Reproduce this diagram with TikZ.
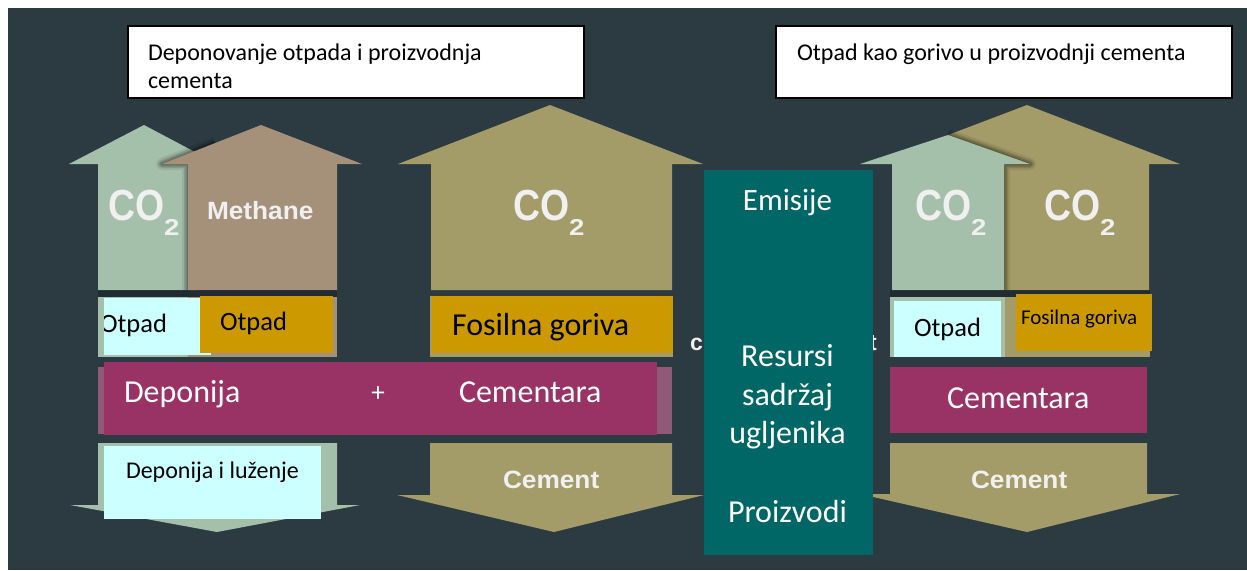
\documentclass[tikz,border=0pt]{standalone}
\usepackage{fontspec}
\setmainfont{Carlito}
\newfontfamily\arialb{Liberation Sans}[BoldFont={* Bold}]
\definecolor{bgdark}{HTML}{2C3B42}
\definecolor{sage}{HTML}{A5C0AA}
\definecolor{tan}{HTML}{A5907A}
\definecolor{olive}{HTML}{A39C68}
\definecolor{goldbox}{HTML}{CC9900}
\definecolor{cyanbox}{HTML}{CCFFFF}
\definecolor{plum}{HTML}{993366}
\definecolor{plumpale}{HTML}{8F5A78}
\definecolor{tealbox}{HTML}{006666}
\newcommand{\fsz}[1]{\fontsize{#1}{#1}\selectfont}
\newcommand{\cotwo}{{\arialb\bfseries\scalebox{.86}[1]{\fsz{43.5}CO}\raisebox{-15pt}{\scalebox{1.2}[1]{\fsz{23}2}}}}
\newcommand{\bigword}[1]{{\arialb\bfseries\scalebox{1.05}[1]{\fsz{25}#1}}}
\tikzset{
  lbl/.style={anchor=base west,inner sep=0pt,outer sep=0pt},
  mid/.style={anchor=base,inner sep=0pt,outer sep=0pt},
  blk/.style={text=black},
  wht/.style={text=white},
  softwhite/.style={text=white!94!black},
  hdr/.style={fill=white,draw=black,line width=1.6pt},
}
\newcommand{\softshadow}[1]{%
  \foreach \w/\o in {12/.08,8/.12,5/.15,2/.15}{%
    \draw[black,opacity=\o,line width=\w pt,line join=round] #1;}%
}
\begin{document}
\begin{tikzpicture}[x=1pt,y=-1pt]
\useasboundingbox (0,0) rectangle (1247,570);
\fill[white] (0,0) rectangle (1247,570);
\fill[bgdark] (8,8) rectangle (1247,570);

% header boxes
\draw[hdr] (128,26) rectangle (584,98);
\draw[hdr] (776,26) rectangle (1232,98);
\node[lbl,blk] (h1a) at (148,60) {\fsz{24}Deponovanje otpada i proizvodnja};
\node[lbl,blk] (h1b) at (148,88) {\fsz{24}cementa};
\node[lbl,blk] (h2) at (797,60) {\fsz{24}Otpad kao gorivo u proizvodnji cementa};

% left group
\fill[sage] (98,290) -- (98,164) -- (69,164) -- (144,125) -- (195,152) -- (195,290) -- cycle;
\softshadow{(188,290) -- (188,164) -- (162,164) -- (215,143)}
\fill[tan] (188,290) -- (188,164) -- (162,164) -- (261,125) -- (362,164) -- (337,164) -- (337,290) -- cycle;
\node[lbl,softwhite] (co1) at (108,220) {\cotwo};
\node[lbl,softwhite] (meth) at (207,219) {\bigword{Methane}};
\fill[black,opacity=.25] (98,290) rectangle (337,297);
\fill[sage] (98,297) rectangle (188,357);
\fill[tan] (188,297) rectangle (337,357);
\fill[cyanbox] (104,298) rectangle (211,355);
\begin{scope}
  \clip (104,298) rectangle (211,355);
  \node[lbl,blk] (ot1) at (100,332) {\fsz{26.5}Otpad};
\end{scope}
\fill[goldbox] (200,296) rectangle (333,353);
\node[lbl,blk] (ot2) at (220,330) {\fsz{26.5}Otpad};

% left lower arrow
\fill[sage] (98,443) -- (337,443) -- (337,505) -- (360,505) -- (217,532) -- (70,505) -- (98,505) -- cycle;
\fill[cyanbox] (104,446) rectangle (321,519);
\node[lbl,blk] (dl) at (126,478) {\fsz{24}Deponija i luženje};

% middle group
\fill[olive] (431,290) -- (431,164) -- (398,164) -- (550,105) -- (703,164) -- (672,164) -- (672,290) -- cycle;
\node[lbl,softwhite] (co2) at (513,220) {\cotwo};
\fill[olive] (430,296) rectangle (673,357);
\fill[goldbox] (432,296) rectangle (673,353);
\node[lbl,blk] (fg) at (452,335) {\fsz{32}Fosilna goriva};
\fill[olive] (430,443) -- (672,443) -- (672,495) -- (704,495) -- (554,532) -- (397,495) -- (430,495) -- cycle;
\node[lbl,softwhite] (ce1) at (503,488) {\bigword{Cement}};

% wide plum bar
\fill[plumpale] (98,367) rectangle (672,434);
\fill[plum] (104,362) rectangle (657,435);
\node[lbl,wht] (dp) at (124,402) {\fsz{32}Deponija};
\node[mid,wht] (plus) at (378,401) {\fsz{27}+};
\node[lbl,wht] (cm1) at (459,402) {\fsz{32}Cementara};

% right group
\fill[olive] (1004,290) -- (1004,164) -- (948,135) -- (1027,105) -- (1180,164) -- (1149,164) -- (1149,290) -- cycle;
\softshadow{(1004,290) -- (1004,164) -- (1030,164) -- (948,135)}
\fill[sage] (892,290) -- (892,164) -- (860,164) -- (948,135) -- (1030,164) -- (1004,164) -- (1004,290) -- cycle;
\node[lbl,softwhite] (co3) at (915,220) {\cotwo};
\node[lbl,softwhite] (co4) at (1044,220) {\cotwo};
\fill[black,opacity=.25] (890,290) rectangle (1150,297);
\fill[sage] (890,297) rectangle (1005,357);
\fill[olive] (1005,297) rectangle (1150,357);
\fill[cyanbox] (894,301) rectangle (1001,357);
\node[lbl,blk] (ot3) at (914,336) {\fsz{26.5}Otpad};
\fill[goldbox] (1016,294) rectangle (1152,351);
\node[lbl,blk] (fg2) at (1021,324) {\fsz{21}Fosilna goriva};
\fill[plum] (890,367) rectangle (1147,433);
\node[lbl,wht] (cm2) at (947,408) {\fsz{32}Cementara};
\fill[olive] (890,443) -- (1147,443) -- (1147,494) -- (1180,494) -- (1027,532) -- (860,494) -- (890,494) -- cycle;
\node[lbl,softwhite] (ce2) at (971,488) {\bigword{Cement}};

% remnants of text behind teal column
\node[lbl,softwhite] (rc) at (690,350) {\arialb\bfseries\fsz{23}c};
\node[lbl,softwhite] (rt) at (869,350) {\arialb\bfseries\fsz{23}t};

% teal column
\fill[tealbox] (704,170) rectangle (873,555);
\node[mid,wht] (em) at (787.5,210) {\fsz{31}Emisije};
\node[mid,wht] (r1) at (787.5,366) {\fsz{32}Resursi};
\node[mid,wht] (r2) at (787.5,405) {\fsz{32}sadržaj};
\node[mid,wht] (r3) at (787.5,443) {\fsz{32}ugljenika};
\node[mid,wht] (pr) at (787.5,522) {\fsz{32}Proizvodi};
\end{tikzpicture}
\end{document}
